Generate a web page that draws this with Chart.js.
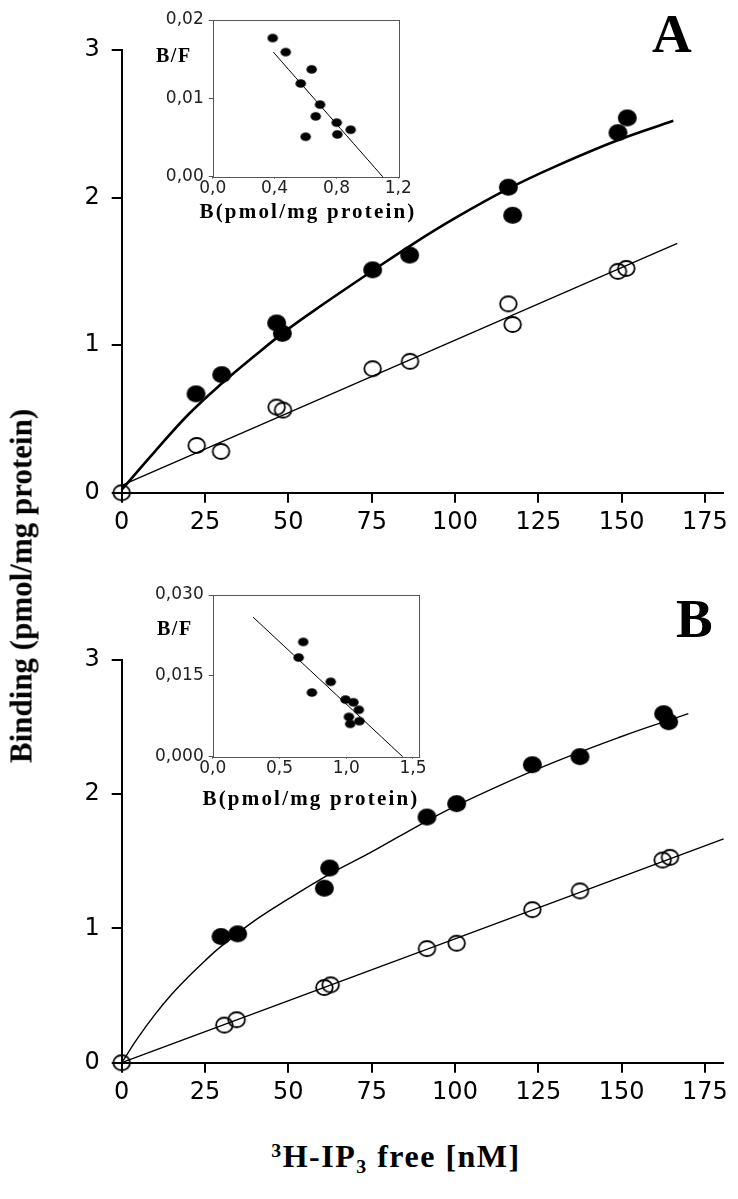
<!DOCTYPE html>
<html><head><meta charset="utf-8">
<script src="https://cdn.jsdelivr.net/npm/chart.js@4/dist/chart.umd.min.js"></script>
<style>
html,body{margin:0;padding:0;background:#fff;}
#wrap{position:relative;width:738px;height:1199px;overflow:hidden;background:#fff;}
canvas{position:absolute;}
.t{position:absolute;font-family:'Liberation Serif','Times New Roman',serif;font-weight:bold;color:#000;line-height:1;white-space:nowrap;}
.sup{font-size:0.62em;vertical-align:0.5em;}
.sub{font-size:0.62em;vertical-align:-0.28em;}
</style></head><body>
<div id="wrap">
<canvas id="mainA" width="738" height="560" style="left:0;top:0;width:738px;height:560px"></canvas>
<canvas id="mainB" width="738" height="520" style="left:0;top:600px;width:738px;height:520px"></canvas>
<canvas id="insetA" width="300" height="200" style="left:130px;top:0;width:300px;height:200px"></canvas>
<canvas id="insetB" width="310" height="210" style="left:130px;top:575px;width:310px;height:210px"></canvas>
<div class="t" style="left:652px;top:6px;font-size:55px;">A</div>
<div class="t" style="left:676px;top:591px;font-size:55px;">B</div>
<div class="t" style="left:156px;top:45px;font-size:20px;letter-spacing:1.5px;">B/F</div>
<div class="t" style="left:157px;top:618px;font-size:20px;letter-spacing:1.5px;">B/F</div>
<div class="t" style="left:308px;top:201px;font-size:21px;letter-spacing:2.2px;transform:translateX(-50%);">B(pmol/mg protein)</div>
<div class="t" style="left:311px;top:788px;font-size:21px;letter-spacing:2.2px;transform:translateX(-50%);">B(pmol/mg protein)</div>
<div class="t" style="left:396px;top:1140px;font-size:32px;letter-spacing:1.5px;transform:translateX(-50%);"><span class="sup">3</span>H-IP<span class="sub">3</span> free [nM]</div>
<div class="t" style="left:21px;top:586px;font-size:31px;transform:translate(-50%,-50%) rotate(-90deg);">Binding (pmol/mg protein)</div>
</div>
<script>
// ---------- Panel A (main) ----------
const aFilledX = [22.3, 30.0, 46.5, 48.2, 75.3, 86.4, 116.0, 117.3, 148.9, 151.7];
const aFilledY = [0.67, 0.80, 1.15, 1.08, 1.51, 1.61, 2.07, 1.88, 2.44, 2.54];
const aOpenX = [0, 22.5, 29.8, 46.5, 48.4, 75.3, 86.5, 116.0, 117.3, 148.9, 151.4];
const aOpenY = [0, 0.32, 0.28, 0.58, 0.56, 0.84, 0.89, 1.28, 1.14, 1.50, 1.52];
const aCurveX = [0, 10, 20, 30, 40, 50, 60, 75, 87, 100, 116, 130, 149, 165.5];
const aCurveY = [0.02, 0.28, 0.53, 0.74, 0.93, 1.11, 1.27, 1.50, 1.68, 1.86, 2.06, 2.21, 2.39, 2.52];
const aLineX = [0, 166.7];
const aLineY = [0.05, 1.69];
// ---------- Panel B (main) ----------
const bFilledX = [29.8, 34.8, 60.8, 62.4, 91.6, 100.5, 123.2, 137.5, 162.6, 164.1];
const bFilledY = [0.94, 0.96, 1.30, 1.45, 1.83, 1.93, 2.22, 2.28, 2.60, 2.54];
const bOpenX = [0, 30.8, 34.5, 60.8, 62.7, 91.6, 100.5, 123.2, 137.5, 162.3, 164.5];
const bOpenY = [0, 0.28, 0.32, 0.56, 0.58, 0.85, 0.89, 1.14, 1.28, 1.51, 1.53];
const bCurveX = [0, 5, 10, 15, 20, 25, 30, 40, 50, 62, 75, 90, 100, 125, 150, 170];
const bCurveY = [0, 0.19, 0.36, 0.51, 0.64, 0.76, 0.87, 1.06, 1.22, 1.40, 1.57, 1.78, 1.91, 2.19, 2.43, 2.60];
const bLineX = [0, 180.6];
const bLineY = [0, 1.667];
// ---------- Insets (Scatchard) ----------
const iaB  = [0.388, 0.472, 0.569, 0.640, 0.694, 0.666, 0.802, 0.806, 0.892, 0.601];
const iaBF = [0.0177, 0.0159, 0.0119, 0.0137, 0.0092, 0.0077, 0.0069, 0.0054, 0.0060, 0.0051];
const iaLineX = [0.392, 1.099];
const iaLineY = [0.0159, 0];
const ibB  = [0.678, 0.644, 0.884, 0.743, 0.995, 1.054, 1.094, 1.020, 1.030, 1.099];
const ibBF = [0.0213, 0.0184, 0.0139, 0.0119, 0.0106, 0.0101, 0.0087, 0.0074, 0.0061, 0.0066];
const ibLineX = [0.302, 1.423];
const ibLineY = [0.0259, 0];
// ---------- Tick labels ----------
const mainXTicks = [0, 25, 50, 75, 100, 125, 150, 175];
const mainXLabels = ['0', '25', '50', '75', '100', '125', '150', '175'];
const mainYTicks = [0, 1, 2, 3];
const mainYLabels = ['0', '1', '2', '3'];
const iaXTicks = [0, 0.4, 0.8, 1.2];
const iaXLabels = ['0,0', '0,4', '0,8', '1,2'];
const iaYTicks = [0, 0.01, 0.02];
const iaYLabels = ['0,00', '0,01', '0,02'];
const ibXTicks = [0, 0.5, 1.0, 1.5];
const ibXLabels = ['0,0', '0,5', '1,0', '1,5'];
const ibYTicks = [0, 0.015, 0.030];
const ibYLabels = ['0,000', '0,015', '0,030'];

const pts = (xs, ys) => xs.map((x, i) => ({x: x, y: ys[i]}));

function ellipseImg(w, h, filled, lw) {
  const c = document.createElement('canvas');
  c.width = Math.ceil(w) + 4; c.height = Math.ceil(h) + 4;
  const g = c.getContext('2d');
  g.beginPath();
  g.ellipse(c.width / 2, c.height / 2, w / 2, h / 2, 0, 0, Math.PI * 2);
  if (filled) { g.fillStyle = '#000'; g.fill(); }
  else { g.lineWidth = lw; g.strokeStyle = '#000'; g.stroke(); }
  return c;
}
const filledImg = ellipseImg(19, 17, true);
const openImg = ellipseImg(16.6, 15, false, 1.8);
const dotImg = ellipseImg(10.5, 8.5, true);

function mainChart(id, canvasTop, canvasH, area, sets) {
  const yW = 60, xH = 50;
  const el = document.getElementById(id);
  return new Chart(el, {
    type: 'scatter',
    data: { datasets: sets },
    options: {
      responsive: false, animation: false, events: [], devicePixelRatio: 1,
      layout: { padding: { left: area.left - yW, top: area.top - canvasTop, right: 738 - area.right, bottom: canvasTop + canvasH - area.bottom - xH } },
      plugins: { legend: { display: false }, tooltip: { enabled: false } },
      scales: {
        x: {
          type: 'linear', min: 0, max: 180.5,
          afterBuildTicks: s => { s.ticks = mainXTicks.map(v => ({ value: v })); },
          afterFit: s => { s.height = xH; },
          ticks: { font: { family: 'DejaVu Sans', size: 24 }, color: '#000', padding: 6, maxRotation: 0, autoSkip: false, callback: (v, i) => mainXLabels[i] },
          grid: { drawOnChartArea: false, drawTicks: true, tickLength: 10, color: '#000', lineWidth: 2 },
          border: { display: true, color: '#000', width: 2 }
        },
        y: {
          type: 'linear', min: 0, max: 3,
          afterBuildTicks: s => { s.ticks = mainYTicks.map(v => ({ value: v })); },
          afterFit: s => { s.width = yW; },
          ticks: { font: { family: 'DejaVu Sans', size: 24 }, color: '#000', padding: 12, autoSkip: false, callback: (v, i) => mainYLabels[i] },
          grid: { drawOnChartArea: false, drawTicks: true, tickLength: 10, color: '#000', lineWidth: 2 },
          border: { display: true, color: '#000', width: 2 }
        }
      }
    }
  });
}

function lineSet(xs, ys, w) {
  return { data: pts(xs, ys), showLine: true, pointRadius: 0, borderColor: '#000', borderWidth: w, tension: 0.4, fill: false, clip: false, order: 1 };
}
function pointSet(xs, ys, img, r) {
  return { data: pts(xs, ys), showLine: false, pointStyle: img, pointRadius: r, clip: false, order: 0 };
}

mainChart('mainA', 0, 560, { left: 121.7, top: 50, right: 723.3, bottom: 492.7 }, [
  pointSet(aFilledX, aFilledY, filledImg, 9),
  pointSet(aOpenX, aOpenY, openImg, 9),
  lineSet(aCurveX, aCurveY, 2.6),
  lineSet(aLineX, aLineY, 1.3)
]);
mainChart('mainB', 600, 520, { left: 121.7, top: 660, right: 723.3, bottom: 1062.7 }, [
  pointSet(bFilledX, bFilledY, filledImg, 9),
  pointSet(bOpenX, bOpenY, openImg, 9),
  lineSet(bCurveX, bCurveY, 1.4),
  lineSet(bLineX, bLineY, 1.4)
]);

const boxPlugin = {
  id: 'box',
  afterDatasetsDraw(chart) {
    const a = chart.chartArea, c = chart.ctx;
    c.save(); c.strokeStyle = '#555'; c.lineWidth = 1;
    c.strokeRect(Math.round(a.left) + 0.5, Math.round(a.top) + 0.5, Math.round(a.right - a.left), Math.round(a.bottom - a.top));
    c.restore();
  }
};

function insetChart(id, canvasLeft, canvasTop, canvasW, canvasH, area, xMax, yMax, xT, xL, yT, yL, sets) {
  const yW = 70, xH = 20;
  return new Chart(document.getElementById(id), {
    type: 'scatter',
    data: { datasets: sets },
    options: {
      responsive: false, animation: false, events: [], devicePixelRatio: 1,
      layout: { padding: { left: area.left - canvasLeft - yW, top: area.top - canvasTop, right: canvasLeft + canvasW - area.right, bottom: canvasTop + canvasH - area.bottom - xH } },
      plugins: { legend: { display: false }, tooltip: { enabled: false } },
      scales: {
        x: {
          type: 'linear', min: 0, max: xMax,
          afterBuildTicks: s => { s.ticks = xT.map(v => ({ value: v })); },
          afterFit: s => { s.height = xH; },
          ticks: { font: { family: 'DejaVu Sans', size: 17 }, color: '#222', padding: 0, maxRotation: 0, autoSkip: false, callback: (v, i) => xL[i] },
          grid: { drawOnChartArea: false, drawTicks: true, tickLength: 2, color: '#555', lineWidth: 1 },
          border: { display: false }
        },
        y: {
          type: 'linear', min: 0, max: yMax,
          afterBuildTicks: s => { s.ticks = yT.map(v => ({ value: v })); },
          afterFit: s => { s.width = yW; },
          ticks: { font: { family: 'DejaVu Sans', size: 17 }, color: '#222', padding: 5, autoSkip: false, callback: (v, i) => yL[i] },
          grid: { drawOnChartArea: false, drawTicks: true, tickLength: 4, color: '#555', lineWidth: 1 },
          border: { display: false }
        }
      }
    },
    plugins: [boxPlugin]
  });
}

insetChart('insetA', 130, 0, 300, 200, { left: 212.7, top: 20, right: 398.3, bottom: 176.7 }, 1.2, 0.02,
  iaXTicks, iaXLabels, iaYTicks, iaYLabels, [
    pointSet(iaB, iaBF, dotImg, 5),
    lineSet(iaLineX, iaLineY, 1)
  ]);
insetChart('insetB', 130, 575, 310, 210, { left: 212.7, top: 595, right: 418.3, bottom: 756.7 }, 1.54, 0.03,
  ibXTicks, ibXLabels, ibYTicks, ibYLabels, [
    pointSet(ibB, ibBF, dotImg, 5),
    lineSet(ibLineX, ibLineY, 1)
  ]);
</script>
</body></html>
